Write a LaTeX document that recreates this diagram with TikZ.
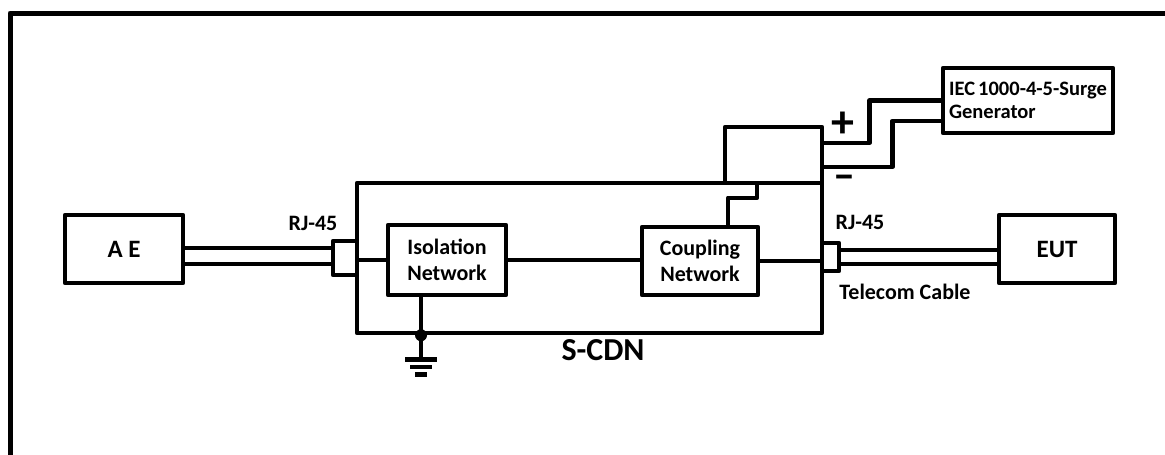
\documentclass[tikz,border=0pt]{standalone}
\usepackage{fontspec}
\setmainfont{Carlito}
\begin{document}
\begin{tikzpicture}[x=1pt,y=-1pt, line width=4.5pt, line join=round,
  box/.style={draw, rectangle, line width=4.5pt, inner sep=0pt, align=center, font=\fontsize{22}{26}\selectfont\bfseries},
  lbl/.style={inner sep=0pt, font=\fontsize{22}{25}\selectfont\bfseries}]
\useasboundingbox (0,0) rectangle (1165,455);
% outer frame
\draw[line width=5pt] (1175,13) -- (10,13) -- (10,465);
% boxes
\node[box, minimum width=465pt, minimum height=150pt] (scdn) at (589.5,258) {};
\node[box, minimum width=97pt, minimum height=56pt] (cpl) at (773.5,155) {};
\node[box, minimum width=118pt, minimum height=68pt, font=\fontsize{25}{30}\selectfont\bfseries] (ae) at (124,249) {A E};
\node[box, minimum width=116pt, minimum height=68pt, font=\fontsize{25}{30}\selectfont\bfseries] (eut) at (1057,249) {EUT};
\node[box, minimum width=118pt, minimum height=70pt] (iso) at (447,260) {Isolation\\Network};
\node[box, minimum width=116pt, minimum height=68pt] (coup) at (700,261) {Coupling\\Network};
\node[box, minimum width=24pt, minimum height=34pt] (rjl) at (345,258) {};
\node[box, minimum width=17pt, minimum height=28pt] (rjr) at (830.5,257) {};
\node[box, minimum width=170pt, minimum height=65pt, align=left, font=\fontsize{20.5}{23}\selectfont\bfseries] (gen) at (1028,100.5) {IEC\hspace{0.15em}1000-4-5-Surge\\Generator};
% cables
\coordinate (a1) at ([yshift=1pt]ae.east);
\coordinate (a2) at ([yshift=-15pt]ae.east);
\draw (a1) -- (a1 -| rjl.west);
\draw (a2) -- (a2 -| rjl.west);
\coordinate (e1) at ([yshift=-1pt]eut.west);
\coordinate (e2) at ([yshift=-15pt]eut.west);
\draw (e1) -- (e1 -| rjr.east);
\draw (e2) -- (e2 -| rjr.east);
% signal path
\draw (iso.west) -- (iso.west -| scdn.west);
\draw (iso.east) -- (iso.east -| coup.west);
\draw (coup.east) -- (coup.east -| scdn.east);
% ground
\coordinate (g0) at ([xshift=-26pt]iso.south);
\coordinate (j) at (g0 |- scdn.south);
\draw (g0) -- (j) -- ++(0,24) coordinate (gnd);
\fill (j) circle (6pt);
\draw (gnd) ++(-16,0) -- ++(32,0);
\draw (gnd) ++(-11,7.5) -- ++(22,0);
\draw (gnd) ++(-6,15) -- ++(12,0);
% coupling to injection box
\coordinate (k) at ([xshift=28pt]coup.north);
\draw (k) -- ++(0,-27) -| ([xshift=-16.5pt]cpl.south);
% generator wires
\draw ([yshift=12pt]cpl.east) -- ++(45,0) |- (gen.west);
\draw ([yshift=-12pt]cpl.east) -- ++(68,0) |- ([yshift=-20.5pt]gen.west);
% labels
\node[lbl] (rjlt) at (313,223) {RJ-45};
\node[lbl] (rjrt) at (860,222) {RJ-45};
\node[lbl] (tc) at (905,292) {Telecom Cable};
\node[lbl, font=\fontsize{32}{34}\selectfont\bfseries] (sc) at (603,350) {S-CDN};
\node[inner sep=0pt, font=\fontsize{46}{46}\selectfont\bfseries] (plus) at (843,125) {+};
\node[inner sep=0pt, font=\fontsize{44}{44}\selectfont\bfseries] (minus) at (844,182) {–};
\end{tikzpicture}
\end{document}
